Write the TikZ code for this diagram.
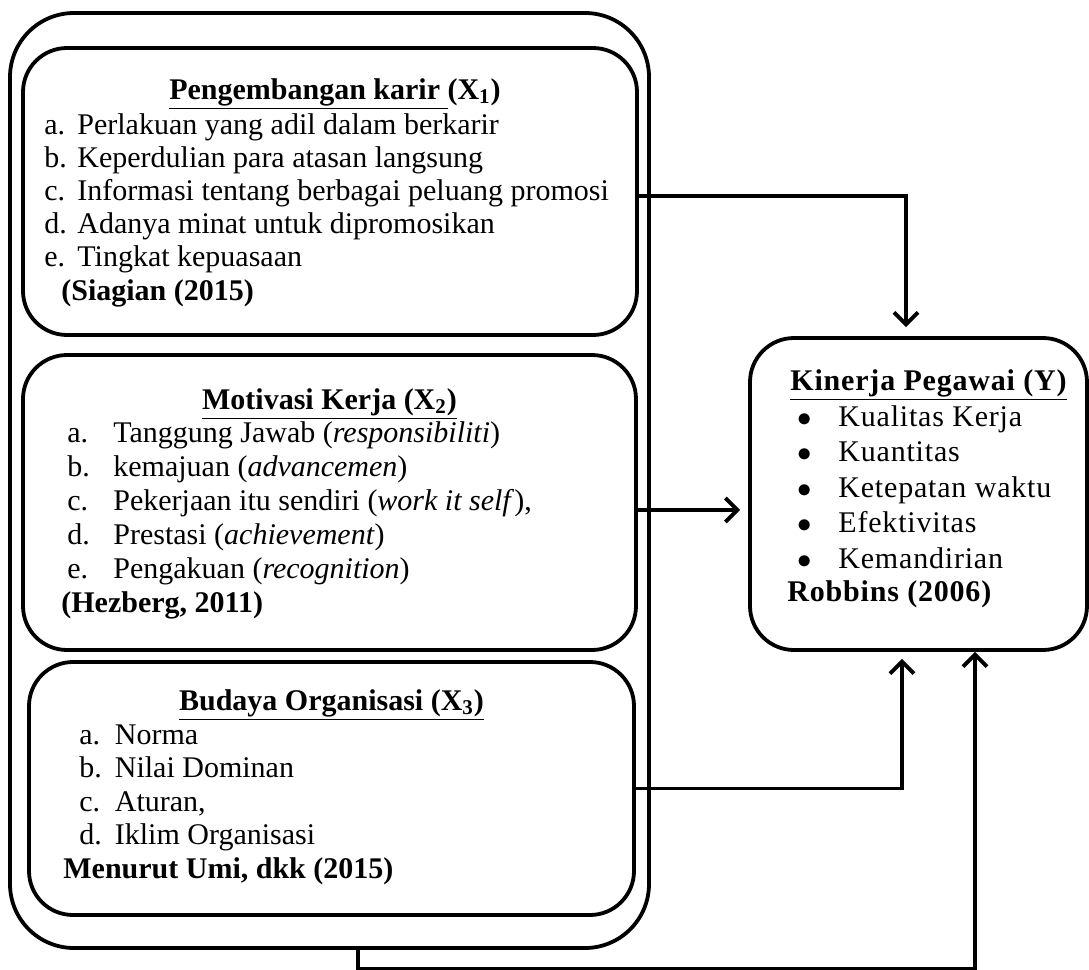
\documentclass[tikz,border=0pt]{standalone}
\usepackage{fontspec}
\setmainfont{Liberation Serif}
\newfontfamily\widefont[LetterSpace=2.7]{Liberation Serif}
\usetikzlibrary{arrows.meta}
\tikzset{
  box/.style={draw,line width=1.9pt,rounded corners=22pt,inner sep=0pt},
  arr/.style={line width=1.9pt,-{Straight Barb[length=6pt,width=12pt]}},
  ttl/.style={inner sep=0pt,anchor=base,font=\fontsize{15}{17}\selectfont\bfseries},
  lst/.style={inner sep=0pt,anchor=base west,align=left}
}
\newcommand{\itm}[2]{\makebox[#1][l]{#2}}
\newcommand{\bul}{$\bullet$}

\begin{document}
\begin{tikzpicture}[x=0.5pt,y=-0.5pt]
  \useasboundingbox (0,0) rectangle (1089,970);
  \node[box,rounded corners=32pt,minimum width=319.5pt,minimum height=467.5pt] (frame) at (329.5,480.5) {};
  \node[box,minimum width=307pt,minimum height=143.5pt] (x1) at (330,191.5) {};
  \node[box,minimum width=306.5pt,minimum height=147.5pt] (x2) at (329.5,502.5) {};
  \node[box,minimum width=302.5pt,minimum height=126.5pt] (x3) at (331.5,788.5) {};
  \node[box,minimum width=168.5pt,minimum height=156pt] (ky) at (918.5,494) {};

  \node[ttl] (x1h) at (335,99) {\underline{Pengembangan karir\ }(X\textsubscript{1})};
  \node[lst,font=\fontsize{15}{16.6}\selectfont] (x1t) at (44,300) {%
    \itm{16.5pt}{a.}Perlakuan yang adil dalam berkarir\\
    \itm{16.5pt}{b.}Keperdulian para atasan langsung\\
    \itm{16.5pt}{c.}Informasi tentang berbagai peluang promosi\\
    \itm{16.5pt}{d.}Adanya minat untuk dipromosikan\\
    \itm{16.5pt}{e.}Tingkat kepuasaan\\
    \hspace*{8.5pt}\textbf{(Siagian (2015)}};

  \node[ttl] (x2h) at (329.5,409) {\underline{Motivasi Kerja (X\textsubscript{2})}};
  \node[lst,font=\fontsize{15}{17}\selectfont] (x2t) at (61,612) {%
    \hspace*{3pt}\itm{23pt}{a.}Tanggung Jawab (\textit{responsibiliti})\\
    \hspace*{3pt}\itm{23pt}{b.}kemajuan (\textit{advancemen})\\
    \hspace*{3pt}\itm{23pt}{c.}Pekerjaan itu sendiri (\textit{work it self}),\\
    \hspace*{3pt}\itm{23pt}{d.}Prestasi (\textit{achievement})\\
    \hspace*{3pt}\itm{23pt}{e.}Pengakuan (\textit{recognition})\\
    \textbf{(Hezberg, 2011)}};

  \node[ttl] (x3h) at (331.5,710) {\underline{Budaya Organisasi (X\textsubscript{3})}};
  \node[lst,font=\fontsize{15}{16.75}\selectfont] (x3t) at (63,878) {%
    \hspace*{8pt}\itm{17.75pt}{a.}Norma\\
    \hspace*{8pt}\itm{17.75pt}{b.}Nilai Dominan\\
    \hspace*{8pt}\itm{17.75pt}{c.}Aturan,\\
    \hspace*{8pt}\itm{17.75pt}{d.}Iklim Organisasi\\
    \textbf{Menurut Umi, dkk (2015)}};

  \node[lst,font=\widefont\fontsize{15}{17.8}\selectfont] (kyt) at (787,601) {%
    \hspace*{1.5pt}\underline{\textbf{Kinerja Pegawai (Y)}}\\
    \hspace*{5pt}\itm{20.5pt}{\bul}Kualitas Kerja\\
    \hspace*{5pt}\itm{20.5pt}{\bul}Kuantitas\\
    \hspace*{5pt}\itm{20.5pt}{\bul}Ketepatan waktu\\
    \hspace*{5pt}\itm{20.5pt}{\bul}Efektivitas\\
    \hspace*{5pt}\itm{20.5pt}{\bul}Kemandirian\\[-1.5pt]
    \textbf{Robbins (2006)}};

  \draw[arr,shorten >=4.5pt] ([yshift=-2.25pt]x1.east) -| ([xshift=-6.25pt]ky.north);
  \draw[arr,shorten >=4pt] ([yshift=-3.75pt]x2.east) -- ([yshift=-3.75pt]x2.east -| ky.west);
  \draw[arr,shorten >=3.5pt] (x3.east) -| ([xshift=-8.25pt]ky.south);
  \draw[arr] ([xshift=14.25pt]frame.south) -- ++(0,19) -| ([xshift=28.25pt]ky.south);
\end{tikzpicture}
\end{document}
